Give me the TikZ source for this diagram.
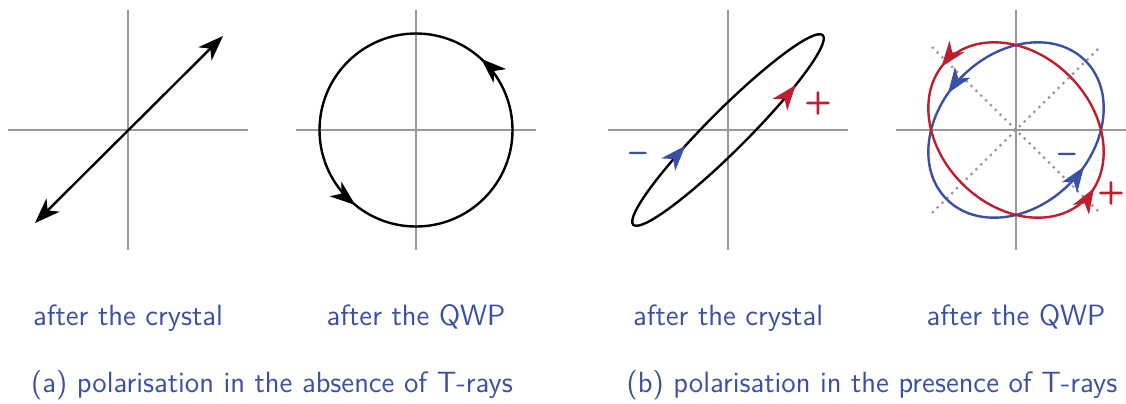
\documentclass[tikz,border=0pt]{standalone}
\usetikzlibrary{arrows.meta,decorations.markings}
\definecolor{tblue}{RGB}{58,80,163}
\definecolor{tred}{RGB}{190,30,45}
\definecolor{axgray}{RGB}{153,153,153}
\tikzset{
  >={Stealth[length=9.5pt,width=7pt,inset=2.8pt]},
  axis/.style={axgray,line width=0.95pt},
  curve/.style={line width=0.9pt},
  diag/.style={axgray,line width=0.85pt,dash pattern=on 0.85pt off 1.7pt},
  lbl/.style={font=\fontsize{11}{13}\selectfont\sffamily,text=tblue,anchor=base,inner sep=0pt},
  sign/.style={font=\fontsize{12}{14}\selectfont\sffamily\bfseries,inner sep=0pt},
}
% arrow tip on an ellipse: colour, rotation, a, b, parameter, direction (+1/-1)
\newcommand\etip[6]{%
  \path[rotate=#2, decorate, decoration={markings,
      mark=at position 0.5 with {\arrow[color=#1]{>}}}]
    ({#3*cos(#5-#6)},{#4*sin(#5-#6)}) -- ({#3*cos(#5+#6)},{#4*sin(#5+#6)});}
\begin{document}
\begin{tikzpicture}[x=0.375pt,y=0.375pt]
\useasboundingbox (0,0) rectangle (1126,-403);

% ---------- panel 1
\begin{scope}[shift={(128,-130)}]
  \draw[axis] (-120,0) -- (120,0);
  \draw[axis] (0,120) -- (0,-120);
  \coordinate (p1a) at (-93,-93);
  \coordinate (p1b) at (95,94);
  \draw[curve,<->] (p1a) -- (p1b);
\end{scope}

% ---------- panel 2
\begin{scope}[shift={(416,-130)}]
  \draw[axis] (-120,0) -- (120,0);
  \draw[axis] (0,120) -- (0,-120);
  \draw[curve] (0,0) circle [radius=96.5];
  \etip{black}{0}{96.5}{96.5}{47.5}{1}
  \etip{black}{0}{96.5}{96.5}{231}{1}
\end{scope}

% ---------- panel 3
\begin{scope}[shift={(728,-130)}]
  \draw[axis] (-120,0) -- (120,0);
  \draw[axis] (0,120) -- (0,-120);
  \draw[curve,rotate=45] (0,0) ellipse [x radius=134, y radius=20];
  \etip{tred}{45}{134}{20}{-53.5}{1}
  \etip{tblue}{45}{134}{20}{108}{-1}
  \node[sign,text=tred] (s3p) at (90,27) {+};
  \node[sign,text=tblue] (s3m) at (-90,-27) {\textendash};
\end{scope}

% ---------- panel 4
\begin{scope}[shift={(1016,-130)}]
  \draw[axis] (-120,0) -- (120,0);
  \draw[axis] (0,120) -- (0,-120);
  \coordinate (d1a) at (-84,83);
  \coordinate (d1b) at (84,-83);
  \coordinate (d2a) at (-84,-83);
  \coordinate (d2b) at (84,83);
  \draw[diag] (d1a) -- (d1b);
  \draw[diag] (d2a) -- (d2b);
  \draw[curve,tblue,rotate=45] (0,0) ellipse [x radius=98, y radius=76];
  \draw[curve,tred,rotate=135] (0,0) ellipse [x radius=98, y radius=76];
  \etip{tred}{135}{98}{76}{6}{1}
  \etip{tred}{135}{98}{76}{190.7}{1}
  \etip{tblue}{45}{98}{76}{103}{1}
  \etip{tblue}{45}{98}{76}{283}{1}
  \node[sign,text=tblue] (s4m) at (51,-28) {\textendash};
  \node[sign,text=tred] (s4p) at (95,-63) {+};
\end{scope}

% ---------- labels
\node[lbl] (t1) at (128,-325) {after the crystal};
\node[lbl] (t2) at (416,-325) {after the QWP};
\node[lbl] (t3) at (728,-325) {after the crystal};
\node[lbl] (t4) at (1016,-325) {after the QWP};
\node[lbl] (ca) at (272,-392) {(a) polarisation in the absence of T-rays};
\node[lbl] (cb) at (872,-392) {(b) polarisation in the presence of T-rays};
\end{tikzpicture}
\end{document}
